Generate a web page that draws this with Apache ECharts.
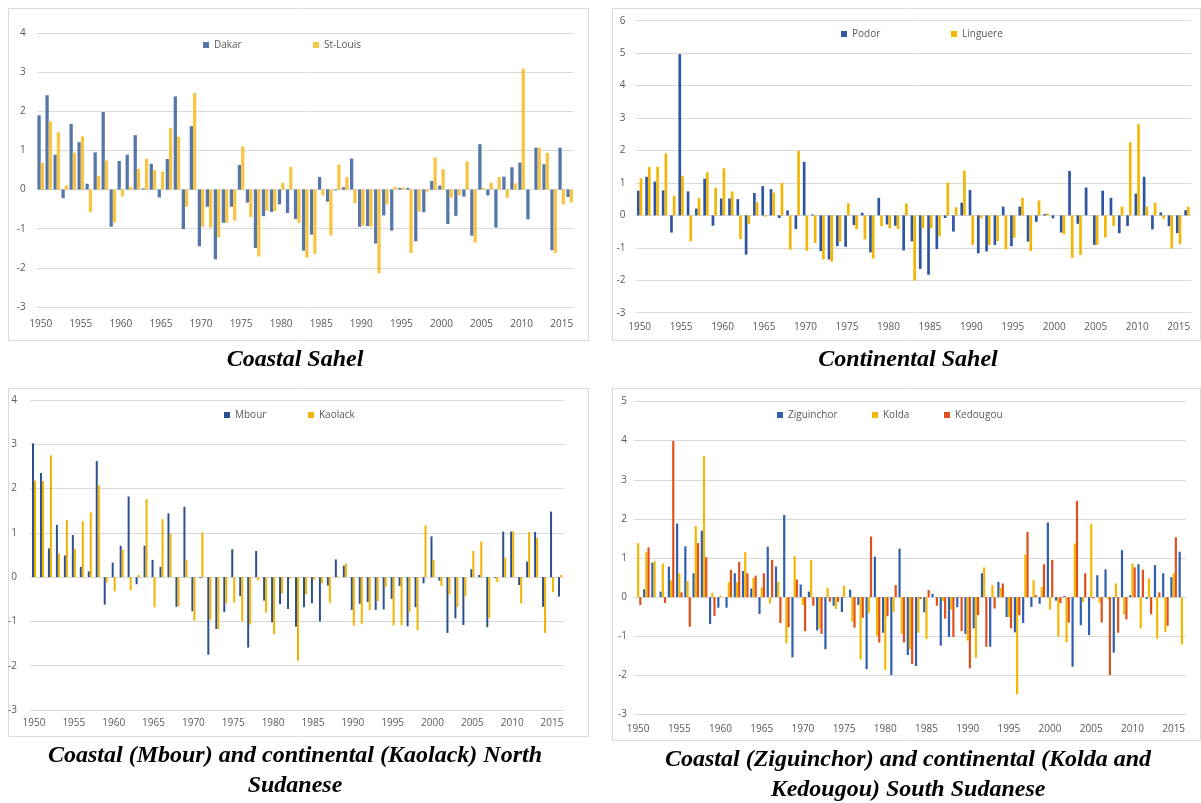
<!DOCTYPE html>
<html>
<head>
<meta charset="utf-8">
<script src="https://cdn.jsdelivr.net/npm/echarts@6.0.0/dist/echarts.min.js"></script>
<style>
  html, body { margin: 0; padding: 0; background: #fff; }
  #chart { width: 1201px; height: 803px; }
</style>
</head>
<body>
<div id="chart"></div>
<script>
var years = ['1950','1951','1952','1953','1954','1955','1956','1957','1958','1959',
  '1960','1961','1962','1963','1964','1965','1966','1967','1968','1969',
  '1970','1971','1972','1973','1974','1975','1976','1977','1978','1979',
  '1980','1981','1982','1983','1984','1985','1986','1987','1988','1989',
  '1990','1991','1992','1993','1994','1995','1996','1997','1998','1999',
  '2000','2001','2002','2003','2004','2005','2006','2007','2008','2009',
  '2010','2011','2012','2013','2014','2015','2016'];

// Coastal Sahel
var dakar = [1.90,2.41,0.89,-0.22,1.68,1.21,0.15,0.95,1.98,-0.95,
  0.73,0.89,1.39,0.03,0.66,-0.20,0.78,2.38,-1.01,1.62,
  -1.45,-0.44,-1.78,-0.85,-0.44,0.63,-0.33,-1.49,-0.68,-0.57,
  -0.38,-0.60,-0.75,-1.56,-1.15,0.32,-0.31,-0.02,0.06,0.79,
  -0.95,-0.93,-1.38,-0.66,-1.05,0.04,0.04,-1.32,-0.58,0.22,
  0.10,-0.88,-0.67,-0.18,-1.18,1.16,-0.15,-0.97,0.33,0.57,
  0.69,-0.76,1.07,0.65,-1.55,1.07,-0.19];
var stLouis = [0.68,1.74,1.46,0.11,0.94,1.36,-0.58,0.35,0.74,-0.84,
  -0.18,0.07,0.53,0.79,0.50,0.46,1.57,1.35,-0.44,2.47,
  -0.95,-0.97,-1.22,-0.85,-0.79,1.10,-0.70,-1.71,-0.54,-0.55,
  0.17,0.58,-0.85,-1.74,-1.64,-0.15,-1.17,0.64,0.32,-0.35,
  -0.92,-0.95,-2.14,-0.38,0.07,0.05,-1.62,-0.56,-0.05,0.82,
  0.52,-0.21,-0.15,0.72,-1.35,0.04,0.17,0.32,-0.21,0.16,
  3.09,0,1.07,0.94,-1.62,-0.38,-0.33];

// Continental Sahel
var podor = [0.76,1.19,1.04,0.77,-0.53,4.97,0.74,0.21,1.13,-0.32,
  0.52,0.52,0.50,-1.21,0.69,0.90,0.81,-0.08,0.15,-0.42,
  1.65,0.03,-1.10,-1.36,-0.95,-0.97,-0.30,0.08,-1.14,0.54,
  -0.28,-0.32,-1.08,-0.80,-1.65,-1.83,-1.04,-0.08,-0.50,0.39,
  0.78,-1.17,-1.11,-0.91,0.27,-0.95,0.27,-0.81,-0.20,0.04,
  -0.09,-0.53,1.37,-0.26,0.86,-0.91,0.76,0.54,-0.55,-0.33,
  0.67,1.19,-0.43,0.09,-0.33,-0.55,0.16];
var linguere = [1.14,1.49,1.50,1.91,0.60,1.22,-0.80,0.53,1.33,0.85,
  1.45,0.74,-0.73,-0.27,0.41,-0.04,0.70,1.00,-1.06,1.98,
  -1.09,-0.85,-1.36,-1.43,-0.81,0.37,-0.43,-0.74,-1.33,-0.33,
  -0.40,-0.42,0.37,-2.01,-0.40,-0.40,-0.64,1.01,0.25,1.38,
  -0.91,-0.09,-0.91,-0.79,-1.05,-0.69,0.54,-1.10,0.46,0.06,
  0,-0.58,-1.31,-1.22,0,-0.91,-0.68,-0.33,0.27,2.25,
  2.81,0.27,0.39,-0.10,-1.02,-0.89,0.27];

// North Sudanese
var mbour = [3.02,2.35,0.65,1.18,0.49,0.95,0.23,0.13,2.62,-0.62,
  0.33,0.71,1.82,-0.16,0.71,0.39,0.23,1.44,-0.67,1.59,
  -0.77,-0.02,-1.75,-1.17,-0.79,0.63,-0.43,-1.59,0.59,-0.53,
  -1.02,-0.61,-0.72,-1.12,-0.68,-0.59,-1.00,-0.19,0.40,0.26,
  -0.74,-0.60,-0.56,-0.74,-0.73,-0.49,-0.20,-1.11,-0.68,-0.14,
  0.92,-0.08,-1.26,-0.93,-1.08,0.18,0.05,-1.13,-0.02,1.03,
  1.03,-0.18,0.35,1.02,-0.67,1.48,-0.44];
var kaolack = [2.18,2.17,2.75,0.53,1.29,0.64,1.26,1.46,2.08,-0.12,
  -0.32,0.62,-0.30,0.05,1.76,-0.68,1.31,0.98,-0.65,0.39,
  -0.98,1.01,-0.96,-1.17,-0.59,-0.57,-1.00,-1.07,-0.07,-0.80,
  -1.29,-0.37,-0.03,-1.89,-0.39,-0.06,-0.14,-0.58,0.02,0.31,
  -1.09,-1.05,-0.74,-0.54,-0.22,-1.09,-1.09,-0.78,-1.20,1.17,
  0.39,-0.20,-0.39,-0.67,-0.43,0.59,0.81,-0.92,-0.11,0.44,
  1.03,-0.59,1.02,0.89,-1.26,-0.34,0.05];

// South Sudanese
var ziguinchor = [0,0.20,0.88,0.14,0.78,1.88,1.30,0.61,1.70,-0.69,
  -0.27,-0.27,0.61,0.67,0.22,-0.43,1.29,0.78,2.10,-1.54,
  0.32,0.14,-0.85,-1.33,-0.22,-0.38,0.19,-0.20,-1.84,1.03,
  -0.91,-1.99,1.24,-1.48,-1.76,-0.39,0.08,-1.24,-1.02,-0.26,
  -0.94,-0.80,0.61,-1.27,0.39,-0.51,-0.90,-0.66,-0.25,-0.17,
  1.91,-0.09,0.03,-1.78,-0.72,-0.97,0.56,0.71,-1.42,1.20,
  0.05,0.84,-0.05,0.82,0.61,0.51,1.16];
var kolda = [1.38,1.15,0.92,0.86,0.43,0.61,0.41,1.82,3.61,0.11,
  0.04,0.38,0.38,1.15,0.49,0.25,-0.16,0.39,-1.18,1.05,
  -0.20,0.95,-0.80,0.24,-0.30,0.29,-0.63,-1.59,-0.40,-0.99,
  -1.86,-0.38,-0.94,-1.33,-0.91,-1.07,0,-0.10,-0.32,0.02,
  -1.11,-1.55,0.76,0.31,0.24,-0.51,-2.48,1.09,0.43,0.26,
  -0.32,-1.01,-1.15,1.37,-0.12,1.87,-0.14,-0.05,0.35,-0.44,
  0.86,-0.80,0.48,-1.06,-0.89,0.61,-1.21];
var kedougou = [-0.20,1.27,0,-0.15,3.99,0.12,-0.76,1.38,1.02,-0.48,
  0,0.70,0.90,0.61,0.55,0.61,0.95,-0.66,-0.77,0.45,
  -0.87,-0.22,-0.94,-0.12,-0.12,0,-0.78,-0.53,1.55,-1.16,
  -0.49,0.31,-1.16,-1.71,-0.05,0.18,-0.22,-0.55,-1.02,-0.87,
  -1.82,-0.46,-1.27,-0.29,0.35,-0.80,-0.46,1.67,0.05,0.84,
  0.95,-0.15,-0.65,2.46,0.61,-0.03,-0.65,-1.99,-0.91,-0.57,
  0.76,0.70,-0.44,0.12,-0.73,1.53,0];

var font = 'Open Sans';
var grey = '#595959';

var panels = [
  {
    box: [8.5, 8.5, 580, 332],
    grid: { left: 36.7, top: 33, width: 537, height: 274 },
    yMin: -3, yMax: 4, gap: '18%', xMargin: 12, yMargin: 11,
    series: [
      { name: 'Dakar', data: dakar, color: '#5676ab', legend: [203, 47] },
      { name: 'St-Louis', data: stLouis, color: '#f6c543', legend: [313, 47] }
    ]
  },
  {
    box: [612.5, 8.5, 588, 332],
    grid: { left: 635.5, top: 20.7, width: 555.6, height: 292 },
    yMin: -3, yMax: 6, gap: '35%', xMargin: 9, yMargin: 10,
    series: [
      { name: 'Podor', data: podor, color: '#2e55a3', legend: [841, 36] },
      { name: 'Linguere', data: linguere, color: '#f2b705', legend: [951, 36] }
    ]
  },
  {
    box: [8.5, 388.5, 580, 348],
    grid: { left: 30, top: 400, width: 534, height: 310 },
    yMin: -3, yMax: 4, gap: '50%', xMargin: 8, yMargin: 13,
    series: [
      { name: 'Mbour', data: mbour, color: '#2d4f8e', legend: [224, 417] },
      { name: 'Kaolack', data: kaolack, color: '#f0b400', legend: [308, 417] }
    ]
  },
  {
    box: [612.5, 388.5, 588, 352],
    grid: { left: 634, top: 401.5, width: 552, height: 313 },
    yMin: -3, yMax: 5, gap: '20%', xMargin: 10, yMargin: 7,
    series: [
      { name: 'Ziguinchor', data: ziguinchor, color: '#2f5fae', legend: [777, 417] },
      { name: 'Kolda', data: kolda, color: '#f5b800', legend: [872, 417] },
      { name: 'Kedougou', data: kedougou, color: '#e0501c', legend: [944, 417] }
    ]
  }
];

var captions = [
  { text: 'Coastal Sahel', x: 295, y: 360 },
  { text: 'Continental Sahel', x: 908, y: 360 },
  { text: 'Coastal (Mbour) and continental (Kaolack) North\nSudanese', x: 295, y: 771 },
  { text: 'Coastal (Ziguinchor) and continental (Kolda and\nKedougou) South Sudanese', x: 908, y: 775 }
];

var grids = [], xAxes = [], yAxes = [], series = [], legends = [], graphics = [];

panels.forEach(function (p, i) {
  graphics.push({
    type: 'rect', silent: true,
    shape: { x: p.box[0], y: p.box[1], width: p.box[2], height: p.box[3] },
    style: { fill: 'none', stroke: '#d9d9d9', lineWidth: 1 }
  });
  grids.push(Object.assign({ containLabel: false, outerBoundsMode: 'none' }, p.grid));
  xAxes.push({
    type: 'category', gridIndex: i, data: years,
    axisLine: { show: false }, axisTick: { show: false },
    axisLabel: { interval: 4, color: grey, fontFamily: font, fontSize: 10, margin: p.xMargin }
  });
  yAxes.push({
    type: 'value', gridIndex: i, min: p.yMin, max: p.yMax, interval: 1,
    axisLine: { show: false }, axisTick: { show: false },
    axisLabel: { color: grey, fontFamily: font, fontSize: 10, margin: p.yMargin },
    splitLine: { lineStyle: { color: '#d9d9d9', width: 1 } }
  });
  p.series.forEach(function (s) {
    series.push({
      name: s.name, type: 'bar', xAxisIndex: i, yAxisIndex: i, data: s.data,
      itemStyle: { color: s.color },
      barGap: '0%', barCategoryGap: p.gap
    });
    legends.push({
      data: [s.name], left: s.legend[0], top: s.legend[1] - 7, padding: 0,
      icon: 'rect', itemWidth: 6, itemHeight: 6,
      textStyle: { color: grey, fontFamily: font, fontSize: 10 }
    });
  });
});

captions.forEach(function (c) {
  graphics.push({
    type: 'text', silent: true,
    style: {
      text: c.text, x: c.x, y: c.y, align: 'center', verticalAlign: 'middle',
      font: 'italic bold 24px "Liberation Serif"', lineHeight: 30, fill: '#000'
    }
  });
});

var chart = echarts.init(document.getElementById('chart'), null, { renderer: 'canvas' });
chart.setOption({
  animation: false,
  backgroundColor: '#fff',
  grid: grids,
  xAxis: xAxes,
  yAxis: yAxes,
  legend: legends,
  series: series,
  graphic: graphics
});
</script>
</body>
</html>
